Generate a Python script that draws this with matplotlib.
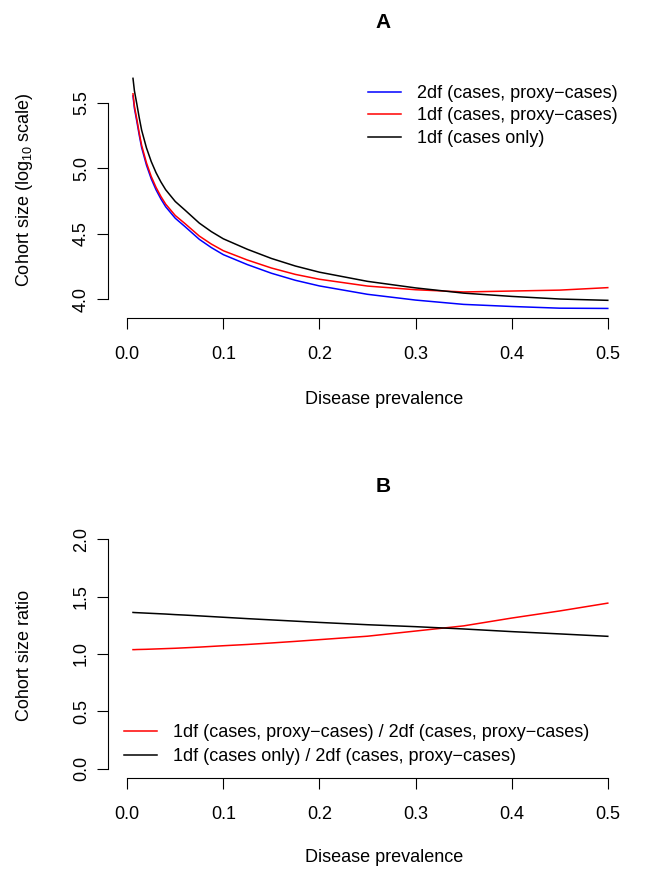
import matplotlib
matplotlib.use('Agg')
import matplotlib.pyplot as plt

plt.rcParams['font.family'] = ['Liberation Sans', 'DejaVu Sans']
plt.rcParams['mathtext.default'] = 'regular'

# ---------------- data ----------------
prevalence = [0.006, 0.0075, 0.01, 0.0125, 0.015, 0.02, 0.025, 0.03, 0.035, 0.04, 0.05,
              0.06, 0.075, 0.0875, 0.1, 0.125, 0.15, 0.175, 0.2, 0.25, 0.3, 0.35, 0.4,
              0.45, 0.5]

# Panel A: cohort size, log10 scale
log_n_2df_proxy = [5.552, 5.456, 5.357, 5.252, 5.157, 5.023, 4.918, 4.834, 4.765, 4.705, 4.617,
                   4.554, 4.456, 4.393, 4.339, 4.263, 4.197, 4.143, 4.100, 4.036, 3.992, 3.959,
                   3.943, 3.930, 3.928]
log_n_1df_proxy = [5.568, 5.472, 5.374, 5.269, 5.174, 5.041, 4.936, 4.853, 4.784, 4.725, 4.638,
                   4.577, 4.481, 4.420, 4.369, 4.298, 4.237, 4.188, 4.151, 4.099, 4.071, 4.054,
                   4.061, 4.068, 4.087]
log_n_1df_cases = [5.686, 5.590, 5.490, 5.385, 5.290, 5.155, 5.050, 4.965, 4.895, 4.835, 4.745,
                   4.680, 4.580, 4.515, 4.460, 4.380, 4.310, 4.252, 4.205, 4.135, 4.085, 4.045,
                   4.020, 4.000, 3.990]

# Panel B: cohort size ratios
ratio_1df_proxy = [1.038, 1.038, 1.039, 1.0395, 1.040, 1.041, 1.0425, 1.044, 1.0455, 1.047, 1.050,
                   1.054, 1.060, 1.066, 1.072, 1.083, 1.096, 1.110, 1.125, 1.155, 1.200, 1.245,
                   1.313, 1.375, 1.443]
ratio_1df_cases = [1.362, 1.361, 1.360, 1.359, 1.358, 1.356, 1.354, 1.352, 1.350, 1.348, 1.343,
                   1.339, 1.332, 1.326, 1.320, 1.308, 1.297, 1.286, 1.275, 1.255, 1.238, 1.218,
                   1.195, 1.175, 1.154]

x_ticks = [0.0, 0.1, 0.2, 0.3, 0.4, 0.5]
x_ticklabels = ['0.0', '0.1', '0.2', '0.3', '0.4', '0.5']
yA_ticks = [4.0, 4.5, 5.0, 5.5]
yA_ticklabels = ['4.0', '4.5', '5.0', '5.5']
yB_ticks = [0.0, 0.5, 1.0, 1.5, 2.0]
yB_ticklabels = ['0.0', '0.5', '1.0', '1.5', '2.0']

labels_A = ['2df (cases, proxy\u2212cases)', '1df (cases, proxy\u2212cases)', '1df (cases only)']
labels_B = ['1df (cases, proxy\u2212cases) / 2df (cases, proxy\u2212cases)',
            '1df (cases only) / 2df (cases, proxy\u2212cases)']

# ---------------- layout ----------------
W, H = 652, 869
fig = plt.figure(figsize=(W / 100, H / 100), dpi=100)
FS = 13


def rect(l, t, r, b):
    return [l / W, 1 - b / H, (r - l) / W, (b - t) / H]


def style(ax, yticks, yticklabels):
    for s in ['top', 'right']:
        ax.spines[s].set_visible(False)
    for s in ['left', 'bottom']:
        ax.spines[s].set_linewidth(0.8)
        ax.spines[s].set_color('black')
    ax.set_xticks(x_ticks)
    ax.set_xticklabels(x_ticklabels)
    ax.set_yticks(yticks)
    ax.set_yticklabels(yticklabels, rotation=90, va='center', ha='right')
    ax.spines['bottom'].set_bounds(x_ticks[0], x_ticks[-1])
    ax.spines['left'].set_bounds(yticks[0], yticks[-1])
    ax.tick_params(axis='both', direction='out', length=8, width=0.8, labelsize=FS, color='black')
    ax.tick_params(axis='x', pad=12.5)
    ax.tick_params(axis='y', pad=5)


def ftext(x, y, s, **kw):
    fig.text(x / W, 1 - y / H, s, **kw)


LEG = dict(frameon=False, fontsize=FS, handlelength=1.8, handletextpad=0.9,
           borderpad=0, borderaxespad=0, bbox_transform=fig.transFigure,
           loc='upper left')

# Panel A
axA = fig.add_axes(rect(108, 68, 627, 318))
axA.plot(prevalence, log_n_2df_proxy, color='#0000FF', lw=1.1, label=labels_A[0])
axA.plot(prevalence, log_n_1df_proxy, color='#FF0000', lw=1.1, label=labels_A[1])
axA.plot(prevalence, log_n_1df_cases, color='black', lw=1.1, label=labels_A[2])
axA.set_xlim(-0.02, 0.52)
axA.set_ylim(3.855, 5.765)
style(axA, yA_ticks, yA_ticklabels)
axA.legend(bbox_to_anchor=(368 / W, 1 - 85 / H), labelspacing=0.3, **LEG)

ftext(383, 22, 'A', ha='center', va='center', fontsize=15, fontweight='bold')
ftext(384, 400, 'Disease prevalence', ha='center', va='center', fontsize=FS)
ftext(29, 190, 'Cohort size (log$_{10}$ scale)', ha='center', va='baseline', rotation=90,
      rotation_mode='anchor', fontsize=FS)

# Panel B
axB = fig.add_axes(rect(108, 530, 627, 778))
axB.plot(prevalence, ratio_1df_proxy, color='#FF0000', lw=1.1, label=labels_B[0])
axB.plot(prevalence, ratio_1df_cases, color='black', lw=1.1, label=labels_B[1])
axB.set_xlim(-0.02, 0.52)
axB.set_ylim(-0.08, 2.08)
style(axB, yB_ticks, yB_ticklabels)
axB.legend(bbox_to_anchor=(124 / W, 1 - 724 / H), labelspacing=0.4, **LEG)

ftext(383, 487, 'B', ha='center', va='center', fontsize=15, fontweight='bold')
ftext(384, 858, 'Disease prevalence', ha='center', va='center', fontsize=FS)
ftext(29, 655, 'Cohort size ratio', ha='center', va='baseline', rotation=90,
      rotation_mode='anchor', fontsize=FS)

fig.savefig('out.png', dpi=100)
